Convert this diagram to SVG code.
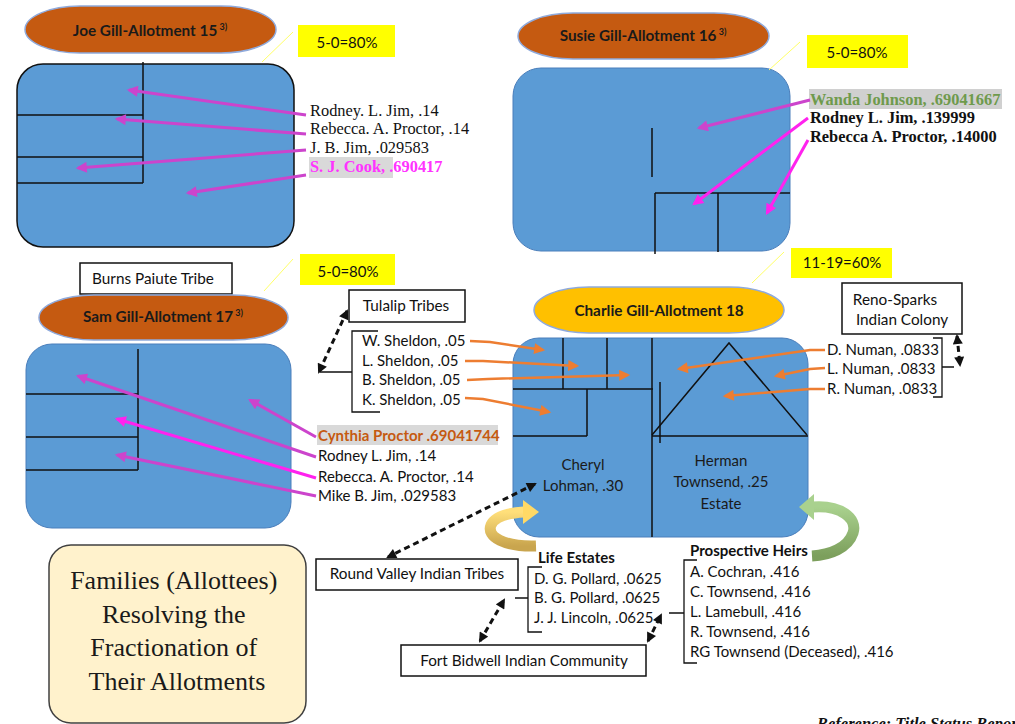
<svg xmlns="http://www.w3.org/2000/svg" width="1015" height="724" viewBox="0 0 1015 724">
<style>
.blue{fill:#5B9BD5;stroke:#4A7EBB;stroke-width:1}
.pill{stroke:#8FAADC;stroke-width:1.5}
.ptxt{font-family:Lato,"Liberation Sans",sans-serif;font-weight:bold;font-size:15.3px;fill:#1a1a1a;text-anchor:middle}
.sup{font-size:9px}
.yb{fill:#FFFF00}
.ytxt{font-family:Lato,"Liberation Sans",sans-serif;font-size:15px;fill:#111;text-anchor:middle}
.yl{stroke:#FFFF66;stroke-width:1;fill:none}
.div{stroke:#111;stroke-width:1.5;fill:none}
.ser{font-family:"Liberation Serif",serif;font-size:16.4px;fill:#111}
.serb{font-family:"Liberation Serif",serif;font-size:16.4px;font-weight:bold;fill:#111}
.sans{font-family:Lato,"Liberation Sans",sans-serif;font-size:15px;fill:#111}
.box{fill:#fff;stroke:#111;stroke-width:1.5}
.btxt{font-family:Lato,"Liberation Sans",sans-serif;font-size:15.3px;fill:#111;text-anchor:middle}
.mag{stroke:#CC44CC;stroke-width:3;fill:none;marker-end:url(#hM)}
.magb{stroke:#FF22EE;stroke-width:3;fill:none;marker-end:url(#hB)}
.org{stroke:#ED7D31;stroke-width:2.5;fill:none;marker-end:url(#hO)}
.dash{stroke:#111;stroke-width:3;stroke-dasharray:6 4;fill:none;marker-start:url(#hK);marker-end:url(#hK)}
.brk{stroke:#111;stroke-width:1.3;fill:none}
.in{font-family:Lato,"Liberation Sans",sans-serif;font-size:15px;fill:#1a1a1a;text-anchor:middle}
</style>
<defs>
<marker id="hM" viewBox="0 0 10 10" refX="8" refY="5" markerWidth="13" markerHeight="11" orient="auto" markerUnits="userSpaceOnUse"><path d="M0,0 L10,5 L0,10 z" fill="#CC44CC"/></marker>
<marker id="hB" viewBox="0 0 10 10" refX="8" refY="5" markerWidth="13" markerHeight="11" orient="auto" markerUnits="userSpaceOnUse"><path d="M0,0 L10,5 L0,10 z" fill="#FF22EE"/></marker>
<marker id="hO" viewBox="0 0 10 10" refX="8" refY="5" markerWidth="13" markerHeight="11" orient="auto" markerUnits="userSpaceOnUse"><path d="M0,0 L10,5 L0,10 z" fill="#ED7D31"/></marker>
<marker id="hK" viewBox="0 0 10 10" refX="8" refY="5" markerWidth="11" markerHeight="10" orient="auto-start-reverse" markerUnits="userSpaceOnUse"><path d="M0,0 L10,5 L0,10 z" fill="#111"/></marker>
<linearGradient id="gY" x1="0" y1="0" x2="0" y2="1"><stop offset="0" stop-color="#FFDF7A"/><stop offset="1" stop-color="#C9A54E"/></linearGradient>
<linearGradient id="gG" x1="0" y1="0" x2="0" y2="1"><stop offset="0" stop-color="#A9D18E"/><stop offset="1" stop-color="#7C9F5C"/></linearGradient>
</defs>

<g id="joe">
<rect x="17" y="64" width="277" height="183" rx="26" fill="#5B9BD5" stroke="#111" stroke-width="1.5"/>
<path class="div" d="M143,62 V183 M17,115 H143 M17,157 H143 M17,183 H143"/>
<rect x="25" y="6" width="251" height="47" rx="55" ry="23.5" fill="#C55A11" class="pill"/>
<text class="ptxt" x="150" y="36">Joe Gill-Allotment 15<tspan class="sup" dy="-6"> 3)</tspan></text>
<line class="yl" x1="262" y1="62" x2="293" y2="32"/>
<rect class="yb" x="298" y="25" width="97" height="32"/>
<text class="ytxt" x="347" y="48">5-0=80%</text>
<text class="ser" x="310" y="116">Rodney. L. Jim, .14</text>
<text class="ser" x="310" y="134">Rebecca. A. Proctor, .14</text>
<text class="ser" x="310" y="153">J. B. Jim, .029583</text>
<rect x="309" y="157" width="84" height="21" fill="#D9D9D9"/>
<text class="serb" x="310" y="172" style="fill:#FF33FF">S. J. Cook, .690417</text>
</g>

<g id="susie">
<rect class="blue" x="513" y="68" width="277" height="183" rx="28"/>
<path class="div" d="M652,128 V177 M655,193 H790 M655,193 V254 M718,193 V252"/>
<rect x="518" y="13" width="251" height="46" rx="55" ry="23" fill="#C55A11" class="pill"/>
<text class="ptxt" x="643" y="41">Susie Gill-Allotment 16<tspan class="sup" dy="-6"> 3)</tspan></text>
<line class="yl" x1="769" y1="70" x2="800" y2="42"/>
<rect class="yb" x="807" y="35" width="101" height="33"/>
<text class="ytxt" x="857" y="58">5-0=80%</text>
<rect x="809" y="89" width="193" height="20" fill="#D0D0D0"/>
<text class="serb" x="810" y="105" style="fill:#6E9A4C">Wanda Johnson, .69041667</text>
<text class="serb" x="810" y="123">Rodney L. Jim, .139999</text>
<text class="serb" x="810" y="142">Rebecca A. Proctor, .14000</text>
</g>

<g id="sam">
<rect class="blue" x="26" y="344" width="265" height="184" rx="26"/>
<path class="div" d="M138,349 V470 M26,394 H138 M26,437 H138 M26,470 H138"/>
<rect class="box" x="80" y="263" width="152" height="31"/>
<text class="btxt" x="153" y="284">Burns Paiute Tribe</text>
<rect x="39" y="295" width="249" height="45" rx="55" ry="22.5" fill="#C55A11" class="pill"/>
<text class="ptxt" x="163" y="322">Sam Gill-Allotment 17<tspan class="sup" dy="-6"> 3)</tspan></text>
<line class="yl" x1="264" y1="291" x2="293" y2="259"/>
<rect class="yb" x="300" y="254" width="95" height="31"/>
<text class="ytxt" x="348" y="277">5-0=80%</text>
<rect x="317" y="425" width="181" height="20" fill="#D9D9D9"/>
<text class="sans" x="318" y="441" font-weight="bold" style="fill:#C55A11">Cynthia Proctor .69041744</text>
<text class="sans" x="318" y="461">Rodney L. Jim, .14</text>
<text class="sans" x="318" y="482">Rebecca. A. Proctor, .14</text>
<text class="sans" x="318" y="501">Mike B. Jim, .029583</text>
</g>

<g id="charlie">
<rect class="blue" x="513" y="338" width="295" height="199" rx="26"/>
<path class="div" d="M563,338 V389 M607,338 V389 M652,338 V537 M513,389 H653 M587,389 V436 M513,436 H587 M652,436 H808 M660,382 V443"/>
<path class="div" d="M652,435 L729,343 L807,435" stroke-width="1.2"/>
<rect x="534" y="287" width="250" height="46" rx="55" ry="23" fill="#FFC000" class="pill"/>
<text class="ptxt" x="659" y="316">Charlie Gill-Allotment 18</text>
<line class="yl" x1="752" y1="283" x2="784" y2="252"/>
<rect class="yb" x="791" y="248" width="101" height="30"/>
<text class="ytxt" x="842" y="268">11-19=60%</text>
<text class="in" x="583" y="470">Cheryl</text>
<text class="in" x="583" y="491">Lohman, .30</text>
<text class="in" x="721" y="466">Herman</text>
<text class="in" x="721" y="487">Townsend, .25</text>
<text class="in" x="721" y="509">Estate</text>
</g>

<g id="tulalip">
<rect class="box" x="349" y="290" width="116" height="32"/>
<text class="btxt" x="406" y="311">Tulalip Tribes</text>
</g>

<g id="sheldons">
<path class="brk" d="M378,331 H352 V412 H380 M352,372 H320"/>
<text class="sans" x="362" y="346">W. Sheldon, .05</text>
<text class="sans" x="362" y="366">L. Sheldon, .05</text>
<text class="sans" x="362" y="385">B. Sheldon, .05</text>
<text class="sans" x="362" y="405">K. Sheldon, .05</text>
</g>

<g id="reno">
<rect class="box" x="842" y="283" width="120" height="51"/>
<text class="btxt" x="895" y="305">Reno-Sparks</text>
<text class="btxt" x="902" y="325">Indian Colony</text>
</g>

<g id="numans">
<path class="brk" d="M933,338 H942 V397 H933 M942,367 H954"/>
<text class="sans" x="827" y="355">D. Numan, .0833</text>
<text class="sans" x="827" y="374">L. Numan, .0833</text>
<text class="sans" x="827" y="394">R. Numan, .0833</text>
</g>

<g id="roundvalley">
<rect class="box" x="316" y="559" width="202" height="31"/>
<text class="btxt" x="417" y="579">Round Valley Indian Tribes</text>
</g>

<g id="lifeestates">
<text class="sans" x="538" y="563" font-weight="bold">Life Estates</text>
<path class="brk" d="M542,567 H528 V632 H542 M528,598 H515"/>
<text class="sans" x="534" y="584">D. G. Pollard, .0625</text>
<text class="sans" x="534" y="603">B. G. Pollard, .0625</text>
<text class="sans" x="534" y="623">J. J. Lincoln, .0625</text>
</g>

<g id="heirs">
<text class="sans" x="690" y="556" font-weight="bold">Prospective Heirs</text>
<path class="brk" d="M697,560 H684 V663 H697 M684,613 H669"/>
<text class="sans" x="690" y="577">A. Cochran, .416</text>
<text class="sans" x="690" y="597">C. Townsend, .416</text>
<text class="sans" x="690" y="617">L. Lamebull, .416</text>
<text class="sans" x="690" y="637">R. Townsend, .416</text>
<text class="sans" x="690" y="657">RG Townsend (Deceased), .416</text>
</g>

<g id="fortbidwell">
<rect class="box" x="401" y="645" width="245" height="31"/>
<text class="btxt" x="524" y="666">Fort Bidwell Indian Community</text>
</g>

<g id="families">
<rect x="49" y="545" width="257" height="178" rx="22" fill="#FFF2CC" stroke="#404040" stroke-width="1.5"/>
<text font-family="Liberation Serif, serif" font-size="26" fill="#1a1a1a" text-anchor="middle">
<tspan x="177" y="589">Families (Allottees)</tspan>
<tspan x="177" y="623">Resolving the</tspan>
<tspan x="177" y="656">Fractionation of</tspan>
<tspan x="177" y="690">Their Allotments</tspan>
</text>
</g>

<text x="817" y="729" font-family="Liberation Serif, serif" font-size="16.5" font-weight="bold" font-style="italic" fill="#111">Reference: Title Status Report</text>

<g id="connectors">
<line class="mag" x1="306" y1="115" x2="129" y2="90"/>
<line class="mag" x1="306" y1="134" x2="117" y2="119"/>
<line class="mag" x1="306" y1="150" x2="78" y2="168"/>
<line class="mag" x1="306" y1="175" x2="188" y2="193"/>
<line class="mag" x1="810" y1="100" x2="699" y2="128"/>
<line class="magb" x1="808" y1="118" x2="694" y2="204"/>
<line class="magb" x1="808" y1="140" x2="767" y2="213"/>
<line class="mag" x1="316" y1="437" x2="250" y2="400"/>
<line class="mag" x1="316" y1="457" x2="78" y2="376"/>
<line class="magb" x1="316" y1="478" x2="117" y2="419"/>
<line class="mag" x1="316" y1="496" x2="117" y2="455"/>
<path class="org" d="M470,341 L490,342 L543,350"/>
<path class="org" d="M465,361 L483,361 L577,366"/>
<path class="org" d="M467,380 L488,379 L628,375"/>
<path class="org" d="M465,398 L483,399 L549,412"/>
<path class="org" d="M825,350 L810,350 L679,369"/>
<path class="org" d="M825,368 L810,369 L776,376"/>
<path class="org" d="M825,389 L810,389 L725,396"/>
<line class="dash" x1="347" y1="311" x2="319" y2="372"/>
<line class="dash" x1="535" y1="484" x2="388" y2="557"/>
<line class="dash" x1="480" y1="641" x2="504" y2="600"/>
<line class="dash" x1="648" y1="641" x2="661" y2="615"/>
<line class="dash" x1="957" y1="336" x2="960" y2="365"/>
<path d="M536,546 C505,547 486,537 491,525 C495,516 508,513 524,512" stroke="url(#gY)" stroke-width="11" fill="none"/>
<path d="M523,500 L539,512 L523,524 z" fill="#FFD966"/>
<path d="M813,507 C840,505 858,518 853,533 C848,548 830,555 812,556" stroke="url(#gG)" stroke-width="11" fill="none"/>
<path d="M814,494 L799,507 L814,520 z" fill="#A9D18E"/>
</g>
</svg>
